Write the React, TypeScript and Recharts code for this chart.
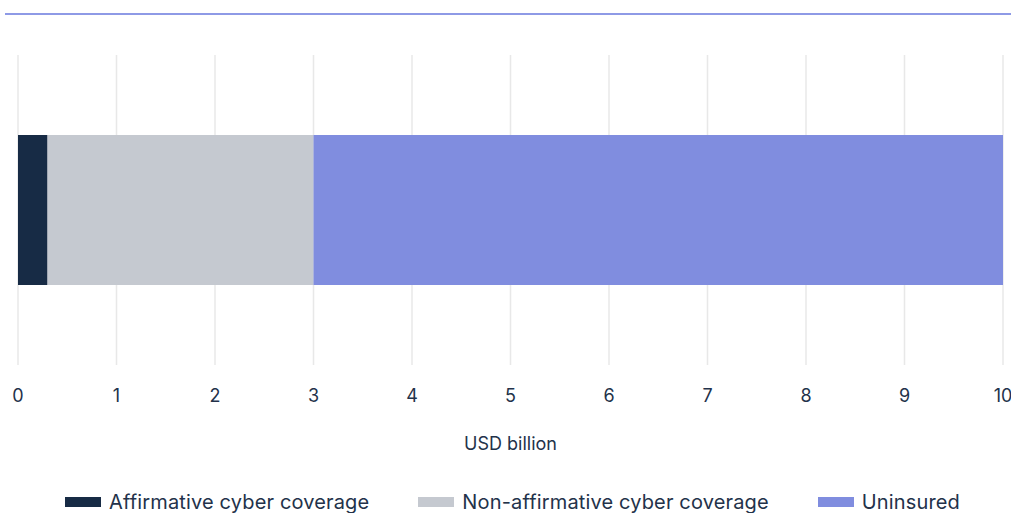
import React from 'react';
import { BarChart, Bar, XAxis, YAxis, CartesianGrid, Legend } from 'recharts';

const categories = ['Cyber losses'];
const affirmative = [0.3];
const nonAffirmative = [2.7];
const uninsured = [7.0];
const xTicks = [0, 1, 2, 3, 4, 5, 6, 7, 8, 9, 10];

const seriesNames = ['Affirmative cyber coverage', 'Non-affirmative cyber coverage', 'Uninsured'];
const seriesKeys = ['affirmative', 'nonAffirmative', 'uninsured'];
const seriesColors = ['#172b45', '#c5c9d0', '#808ddf'];

const data = categories.map((name, i) => ({
  name,
  affirmative: affirmative[i],
  nonAffirmative: nonAffirmative[i],
  uninsured: uninsured[i],
}));

const FONT = 'Inter, "Noto Sans", sans-serif';
const TEXT = '#23324a';

const LegendContent = () => (
  <div
    style={{
      display: 'flex',
      justifyContent: 'center',
      alignItems: 'center',
      gap: 49,
      height: 30,
      fontFamily: FONT,
      fontSize: 20,
      letterSpacing: 0.15,
      color: TEXT,
      whiteSpace: 'nowrap',
      paddingLeft: 14,
    }}
  >
    {seriesNames.map((n, i) => (
      <div key={n} style={{ display: 'flex', alignItems: 'center' }}>
        <span style={{ display: 'inline-block', width: 36, height: 10, background: seriesColors[i], marginRight: 8 }} />
        <span>{n}</span>
      </div>
    ))}
  </div>
);

export default function App() {
  return (
    <div style={{ position: 'absolute', left: 0, top: 0, width: 1011, height: 513, overflow: 'hidden', background: '#fff' }}>
      <div style={{ position: 'absolute', left: 5, top: 13, width: 1006, height: 2, background: '#8e9ae6' }} />
      <BarChart
        width={1011}
        height={513}
        layout="vertical"
        data={data}
        margin={{ top: 55, right: 8, left: 18, bottom: 0 }}
        barCategoryGap={80}
      >
        <CartesianGrid horizontal={false} vertical stroke="#e8e8e8" strokeWidth={1.5} />
        <XAxis
          type="number"
          domain={[0, 10]}
          ticks={xTicks}
          axisLine={false}
          tickLine={false}
          tickMargin={18}
          height={118}
          tick={{ fontSize: 18, fill: TEXT, fontFamily: FONT }}
          interval={0}
          label={{ value: 'USD billion', position: 'insideTop', offset: 72, fontSize: 18, fill: TEXT, fontFamily: FONT }}
        />
        <YAxis type="category" dataKey="name" hide />
        <Legend
          verticalAlign="bottom"
          content={<LegendContent />}
          wrapperStyle={{ left: 0, top: 487, bottom: 'auto', width: 1011, height: 30 }}
        />
        {seriesKeys.map((k, i) => (
          <Bar key={k} dataKey={k} name={seriesNames[i]} stackId="a" fill={seriesColors[i]} barSize={150} isAnimationActive={false} />
        ))}
      </BarChart>
    </div>
  );
}
